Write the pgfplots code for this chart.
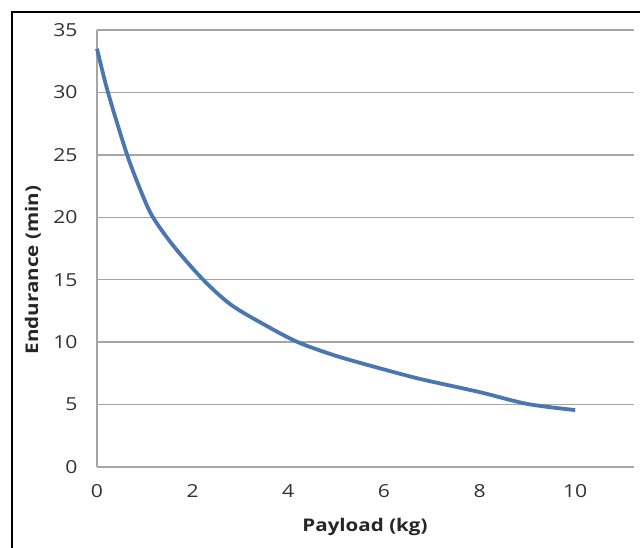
\documentclass[border=0pt]{standalone}
\usepackage{fontspec}
\setmainfont{Open Sans}[FakeStretch=1.18]
\usepackage{pgfplots}
\pgfplotsset{compat=1.18}
\definecolor{curveblue}{RGB}{74,118,178}
\definecolor{gridgray}{RGB}{165,165,165}
\begin{document}
\begin{tikzpicture}
\useasboundingbox (0,0) rectangle (640bp,548bp);
\fill[white] (0,0) rectangle (640bp,548bp);
\draw[black, line width=1.6bp] (12bp,0) -- (12bp,536bp) -- (640bp,536bp);
\begin{axis}[
  at={(97bp,81bp)}, anchor=origin,
  scale only axis, width=537bp, height=437bp,
  xmin=0, xmax=11.23, ymin=0, ymax=35,
  xtick={0,2,...,10}, ytick={0,5,...,35},
  major tick length=0pt,
  axis x line*=bottom, axis y line*=left,
  axis line style={-, gridgray, line width=1.4bp},
  ymajorgrids, grid style={gridgray, line width=1.4bp},
  /pgf/number format/assume math mode=true,
  ticklabel style={font=\fontsize{18}{20}\selectfont, text=black!80},
  xticklabel style={yshift=-14bp},
  yticklabel style={xshift=-16bp},
  clip=false,
]
\addplot[curveblue, line width=3.8bp, smooth, tension=0.5] coordinates {
(0,33.5) (0.23,30) (0.63,25) (0.95,21.8) (1.17,20) (1.6,17.7) (2.22,15)
(2.8,13.0) (3.5,11.4) (4.2,10) (5,8.9) (5.92,7.9) (6.76,7.05) (8,6.0) (9,5.05) (10,4.56)
};
\end{axis}
\node[rotate=90, font=\fontsize{17.5}{20}\selectfont\bfseries, text=black!85] at (33bp,278bp) {Endurance (min)};
\node[font=\fontsize{17.5}{20}\selectfont\bfseries, text=black!85] at (365bp,21bp) {Payload (kg)};
\end{tikzpicture}
\end{document}
